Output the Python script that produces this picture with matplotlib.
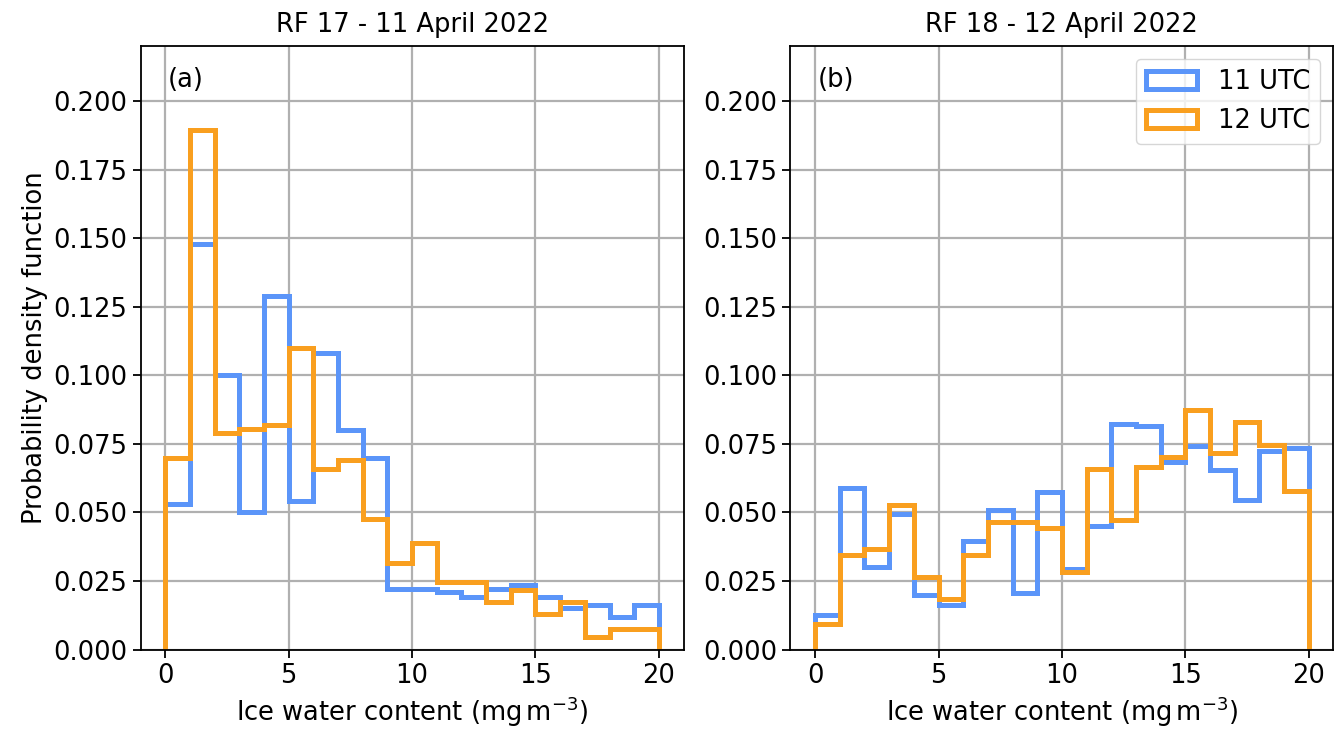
import numpy as np
import matplotlib
matplotlib.use("Agg")
import matplotlib.pyplot as plt

# bin edges of the ice water content histograms (mg m-3)
edges = np.arange(0, 21, 1)

# RF 17 - 11 April 2022
rf17_11utc = [0.053, 0.148, 0.100, 0.050, 0.129, 0.054, 0.108, 0.080, 0.070, 0.022,
              0.022, 0.021, 0.019, 0.022, 0.0236, 0.019, 0.015, 0.0163, 0.012, 0.0163]
rf17_12utc = [0.070, 0.1895, 0.079, 0.0805, 0.082, 0.110, 0.066, 0.069, 0.0476, 0.0317,
              0.0389, 0.0245, 0.0245, 0.0174, 0.0217, 0.013, 0.0174, 0.0045, 0.0074, 0.0074]

# RF 18 - 12 April 2022
rf18_11utc = [0.0127, 0.059, 0.030, 0.0494, 0.020, 0.0163, 0.0397, 0.0509, 0.0207, 0.0573,
              0.0294, 0.045, 0.0822, 0.0815, 0.0684, 0.0743, 0.0655, 0.0545, 0.0723, 0.0735]
rf18_12utc = [0.0094, 0.0344, 0.0365, 0.0529, 0.0265, 0.0186, 0.0344, 0.0466, 0.0466, 0.0445,
              0.0282, 0.0657, 0.0474, 0.0667, 0.0701, 0.0872, 0.0718, 0.083, 0.0745, 0.058]

titles = ["RF 17 - 11 April 2022", "RF 18 - 12 April 2022"]
panels = ["(a)", "(b)"]
labels = ["11 UTC", "12 UTC"]
colors = ["#5b95f9", "#f99f1f"]

plt.rcParams["font.size"] = 18.5

fig, axes = plt.subplots(1, 2, figsize=(13.4, 7.34), dpi=100)
data = [(rf17_11utc, rf17_12utc), (rf18_11utc, rf18_12utc)]

for ax, (d11, d12), title, panel in zip(axes, data, titles, panels):
    # step histograms, weights are the pdf values of each bin
    ax.hist(edges[:-1], bins=edges, weights=d11, histtype="step",
            color=colors[0], lw=3.6, label=labels[0])
    ax.hist(edges[:-1], bins=edges, weights=d12, histtype="step",
            color=colors[1], lw=3.6, label=labels[1])
    ax.set_ylim(0, 0.22)
    ax.set_xlim(-1, 21)
    ax.set_xticks([0, 5, 10, 15, 20])
    ax.set_yticks(np.arange(0, 0.201, 0.025))
    ax.grid(True, color="#b0b0b0", lw=1.6)
    ax.set_axisbelow(True)
    ax.set_title(title, fontsize=18.5, pad=10)
    ax.set_xlabel(r"Ice water content (mg$\,$m$^{-3}$)")
    ax.text(0.05, 0.965, panel, transform=ax.transAxes, va="top", ha="left")
    ax.tick_params(width=1.3, length=6)
    for s in ax.spines.values():
        s.set_linewidth(1.3)

axes[0].set_ylabel("Probability density function")
axes[1].legend(loc="upper right", handlelength=2.0)

plt.subplots_adjust(left=0.105, right=0.995, top=0.937, bottom=0.115, wspace=0.197)
plt.savefig("out.png")
